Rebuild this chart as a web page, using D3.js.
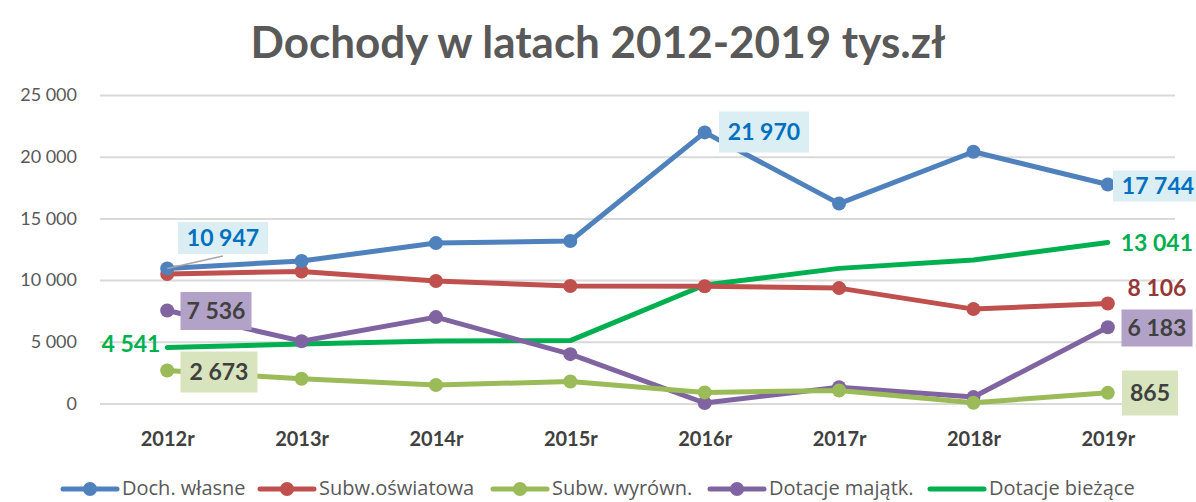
<!DOCTYPE html>
<html>
<head>
<meta charset="utf-8">
<script src="https://cdn.jsdelivr.net/npm/d3@7"></script>
<style>
  body { margin: 0; background: #fff; }
  svg { font-family: Lato, "Open Sans", sans-serif; }
</style>
</head>
<body>
<svg id="chart" width="1196" height="502"></svg>
<script>
// data
var years = ['2012r', '2013r', '2014r', '2015r', '2016r', '2017r', '2018r', '2019r'];
var dochWlasne = [10947, 11550, 13000, 13170, 21970, 16200, 20400, 17744];
var subwOswiatowa = [10500, 10700, 9930, 9520, 9500, 9350, 7650, 8106];
var subwWyrown = [2673, 2000, 1500, 1780, 900, 1050, 60, 865];
var dotacjeMajatk = [7536, 5050, 7000, 4000, 40, 1320, 520, 6183];
var dotacjeBiezace = [4541, 4820, 5060, 5100, 9600, 10950, 11630, 13041];
var yTicks = [0, 5000, 10000, 15000, 20000, 25000];

var series = [
  {name: 'Doch. własne', values: dochWlasne, color: '#4F81BD', marker: true},
  {name: 'Subw.oświatowa', values: subwOswiatowa, color: '#C0504D', marker: true},
  {name: 'Subw. wyrówn.', values: subwWyrown, color: '#9BBB59', marker: true},
  {name: 'Dotacje majątk.', values: dotacjeMajatk, color: '#8064A2', marker: true},
  {name: 'Dotacje bieżące', values: dotacjeBiezace, color: '#00B050', marker: false}
];

var svg = d3.select('#chart');
var fmt = v => d3.format(',')(v).replace(/,/g, ' ');

// scales
var x = d3.scalePoint().domain(years).range([100, 1175]).padding(0.5);
var y = d3.scaleLinear().domain([0, 25000]).range([403.5, 95]);

// title
svg.append('text')
  .attr('x', 598).attr('y', 58)
  .attr('text-anchor', 'middle')
  .style('font-size', '44px').style('font-weight', 'bold')
  .attr('fill', '#595959')
  .text('Dochody w latach 2012-2019 tys.zł');

// grid + y axis
var yAxis = svg.append('g')
  .attr('transform', 'translate(100,0)')
  .call(d3.axisLeft(y).tickValues(yTicks).tickSize(-1075).tickFormat(fmt).tickPadding(23));
yAxis.select('.domain').remove();
yAxis.selectAll('line').attr('stroke', '#d9d9d9').attr('stroke-width', 2);
yAxis.selectAll('text').style('font-size', '18px').attr('fill', '#595959')
  .style('font-family', 'Lato, sans-serif');

// x axis
var xAxis = svg.append('g')
  .attr('transform', 'translate(0,403.5)')
  .call(d3.axisBottom(x).tickSize(0).tickPadding(28));
xAxis.select('.domain').remove();
xAxis.selectAll('text').style('font-size', '20px').style('font-weight', 'bold')
  .attr('fill', '#404040').style('font-family', 'Lato, sans-serif');

// lines
var line = d3.line().x((d, i) => x(years[i])).y(d => y(d));
series.slice().reverse().forEach(s => {
  svg.append('path')
    .attr('d', line(s.values))
    .attr('fill', 'none')
    .attr('stroke', s.color)
    .attr('stroke-width', 5)
    .attr('stroke-linejoin', 'round')
    .attr('stroke-linecap', 'round');
  if (s.marker) {
    svg.selectAll(null).data(s.values).enter()
      .append('circle')
      .attr('cx', (d, i) => x(years[i]))
      .attr('cy', d => y(d))
      .attr('r', 7)
      .attr('fill', s.color);
  }
});

// data labels
function boxLabel(cx, cy, w, h, txt, bg, color) {
  svg.append('rect').attr('x', cx - w / 2).attr('y', cy - h / 2)
    .attr('width', w).attr('height', h).attr('fill', bg);
  svg.append('text').attr('x', cx).attr('y', cy + 8)
    .attr('text-anchor', 'middle')
    .style('font-size', '23px').style('font-weight', 'bold')
    .attr('fill', color).text(txt);
}
function plainLabel(lx, ly, txt, color, anchor) {
  svg.append('text').attr('x', lx).attr('y', ly + 8)
    .attr('text-anchor', anchor || 'middle')
    .style('font-size', '23px').style('font-weight', 'bold')
    .attr('fill', color).text(txt);
}

// leader line for first blue label
svg.append('line')
  .attr('x1', x(years[0])).attr('y1', y(dochWlasne[0]))
  .attr('x2', 223).attr('y2', 256)
  .attr('stroke', '#a6a6a6').attr('stroke-width', 1.5);

boxLabel(223, 238, 90, 32, fmt(dochWlasne[0]), '#DAEEF3', '#0070C0');
boxLabel(764, 132, 90, 41, fmt(dochWlasne[4]), '#DAEEF3', '#0070C0');
boxLabel(1158, 186, 90, 31, fmt(dochWlasne[7]), '#DAEEF3', '#0070C0');
boxLabel(216, 311, 71, 38, fmt(dotacjeMajatk[0]), '#B3A2C7', '#404040');
boxLabel(1157, 328, 71, 37, fmt(dotacjeMajatk[7]), '#B3A2C7', '#404040');
boxLabel(219, 372, 77, 41, fmt(subwWyrown[0]), '#D7E4BD', '#404040');
boxLabel(1150, 393, 56, 45, fmt(subwWyrown[7]), '#D7E4BD', '#404040');
plainLabel(131, 344, fmt(dotacjeBiezace[0]), '#00B050');
plainLabel(1193, 243, fmt(dotacjeBiezace[7]), '#00B050', 'end');
plainLabel(1157, 288, fmt(subwOswiatowa[7]), '#953735');

// legend
var legendX = [63, 260, 493, 710, 930];
var legend = svg.append('g');
series.forEach((s, i) => {
  var g = legend.append('g').attr('transform', 'translate(' + legendX[i] + ',489)');
  g.append('line').attr('x1', 0).attr('x2', 54).attr('y1', 0).attr('y2', 0)
    .attr('stroke', s.color).attr('stroke-width', 5).attr('stroke-linecap', 'round');
  if (s.marker) g.append('circle').attr('cx', 27).attr('cy', 0).attr('r', 7).attr('fill', s.color);
  g.append('text').attr('x', 59).attr('y', 6)
    .style('font-size', '20px').style('font-family', '"Open Sans", sans-serif')
    .attr('fill', '#595959').text(s.name);
});
</script>
</body>
</html>
